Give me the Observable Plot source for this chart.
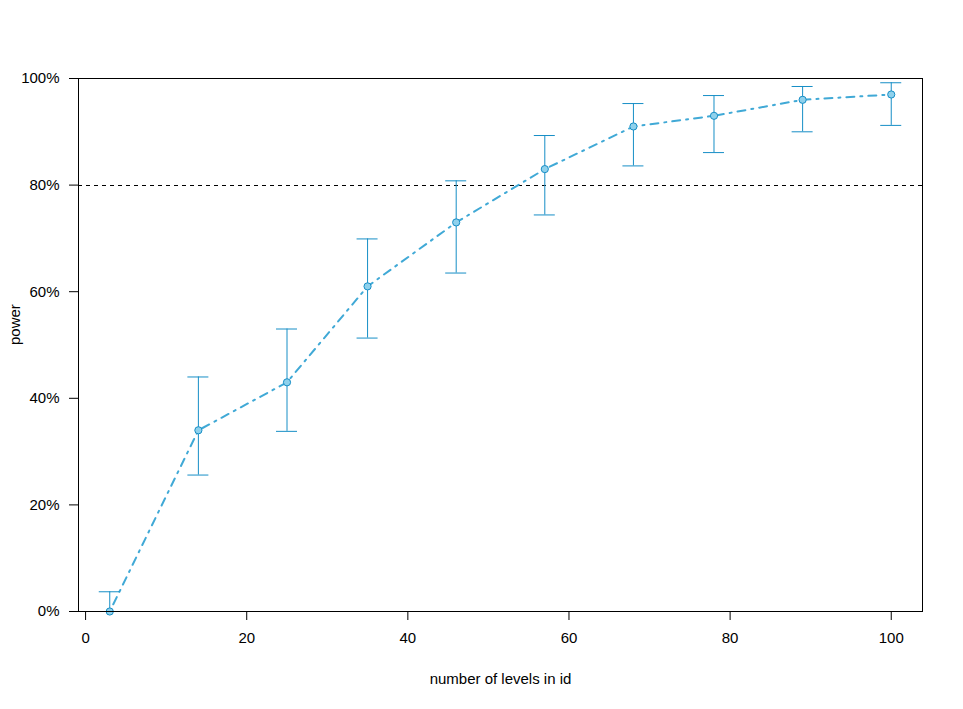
<!DOCTYPE html>
<html>
<head>
<meta charset="utf-8">
<script src="https://cdn.jsdelivr.net/npm/d3@7"></script>
<script src="https://cdn.jsdelivr.net/npm/@observablehq/plot@0.6"></script>
<style>
  html, body { margin: 0; padding: 0; background: #fff; }
  svg { display: block; }
</style>
</head>
<body>
<div id="chart"></div>
<script>
const levels = [3, 14, 25, 35, 46, 57, 68, 78, 89, 100];
const power  = [0, 34, 43, 61, 73, 83, 91, 93, 96, 97];
const lower  = [0, 25.6, 33.8, 51.3, 63.5, 74.4, 83.6, 86.1, 90.0, 91.2];
const upper  = [3.7, 44.0, 53.0, 69.9, 80.8, 89.3, 95.3, 96.8, 98.5, 99.2];
const xTicks = [0, 20, 40, 60, 80, 100];
const yTicks = [0, 20, 40, 60, 80, 100];
const threshold = 80;
const xLabel = "number of levels in id";
const yLabel = "power";

const data = levels.map((x, i) => ({x, y: power[i], lo: lower[i], hi: upper[i]}));

const lineColor = "#40a9d6";
const barColor = "#168ec6";
const dotFill = "#8fd1ec";

const chart = Plot.plot({
  width: 963,
  height: 709,
  marginLeft: 78,
  marginRight: 41,
  marginTop: 78,
  marginBottom: 98,
  style: {fontFamily: "'Liberation Sans', Arial, sans-serif", fontSize: "15px", background: "#fff", color: "#000"},
  x: {domain: [-0.88, 103.88]},
  y: {domain: [0, 100]},
  marks: [
    Plot.axisX({ticks: xTicks, tickSize: 9, tickPadding: 12, label: null, stroke: "#000", fontSize: 15}),
    Plot.axisY({ticks: yTicks, tickSize: 9, tickPadding: 10, label: null, tickFormat: d => d + "%", stroke: "#000", fontSize: 15}),
    Plot.ruleY([threshold], {stroke: "#000", strokeWidth: 1, strokeDasharray: "4,4", shapeRendering: "crispEdges"}),
    Plot.line(data, {x: "x", y: "y", stroke: lineColor, strokeWidth: 2, curve: "linear", strokeDasharray: "2,6,8,6"}),
    Plot.ruleX(data, {x: "x", y1: "lo", y2: "hi", stroke: barColor, strokeWidth: 1}),
    Plot.ruleY(data, {y: "lo", x1: "x", x2: "x", insetLeft: -10.5, insetRight: -10.5, stroke: barColor, strokeWidth: 1}),
    Plot.ruleY(data, {y: "hi", x1: "x", x2: "x", insetLeft: -10.5, insetRight: -10.5, stroke: barColor, strokeWidth: 1}),
    Plot.dot(data, {x: "x", y: "y", r: 3.6, fill: dotFill, stroke: barColor, strokeWidth: 1}),
    Plot.frame({stroke: "#000", strokeWidth: 1}),
    Plot.text([xLabel], {frameAnchor: "bottom", dy: 72, fontSize: 15, fill: "#000"}),
    Plot.text([yLabel], {frameAnchor: "left", dx: -63, rotate: -90, fontSize: 15, fill: "#000"})
  ]
});
document.getElementById("chart").appendChild(chart);
</script>
</body>
</html>
